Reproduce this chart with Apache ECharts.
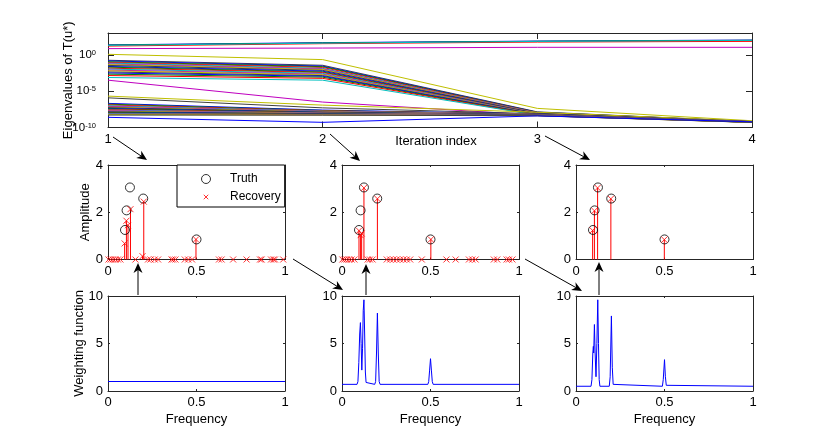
<!DOCTYPE html>
<html><head><meta charset="utf-8">
<script src="https://cdn.jsdelivr.net/npm/echarts@6/dist/echarts.min.js"></script>
<style>html,body{margin:0;padding:0;background:#fff}#c{width:830px;height:440px}</style>
</head><body><div id="c"></div>
<script>
// ---------- data ----------
const iterations = [1, 2, 3, 4];
// log10 of each eigenvalue of T(u*), one entry per eigenvalue, per iteration
const eigLog10Iter1 = [1.37, 1.33, 1.2, 1.3, 0.85, 0.07,
  -0.75, -0.84, -0.96, -1.05, -1.14, -1.26, -1.35, -1.46, -1.6, -1.7, -1.84, -1.96, -2.1, -2.2, -2.36, -2.5, -2.66, -2.85, -3.12,
  -3.49, -5.68, -5.92,
  -6.68, -6.79, -6.9, -7.01, -7.1, -7.2, -7.27, -7.37, -7.44, -7.52, -7.6, -7.67, -7.75, -7.83, -7.9, -7.96, -8.04, -8.1, -8.17, -8.22, -8.29,
  -8.6];
const eigLog10Iter2 = [1.67, 1.63, 1.53, 1.6, 0.93, -0.66,
  -1.44, -1.55, -1.63, -1.74, -1.86, -1.95, -2.03, -2.14, -2.25, -2.36, -2.44, -2.55, -2.66, -2.74, -2.86, -2.95, -3.08, -3.24, -3.49,
  -6.5, -6.92, -7.3,
  -7.6, -7.66, -7.7, -7.75, -7.8, -7.84, -7.88, -7.92, -7.95, -7.99, -8.02, -8.05, -8.08, -8.11, -8.14, -8.17, -8.2, -8.22, -8.25, -8.27, -8.3,
  -9.29];
const eigLog10Iter3 = [1.89, 1.86, 1.75, 1.84, 1.03, -7.37,
  -7.85, -7.9, -7.93, -7.96, -8.0, -8.02, -8.05, -8.07, -8.1, -8.12, -8.14, -8.16, -8.18, -8.2, -8.22, -8.24, -8.26, -8.28, -8.3,
  -8.3, -7.9, -8.1,
  -8.15, -8.17, -8.18, -8.2, -8.21, -8.22, -8.24, -8.25, -8.26, -8.27, -8.28, -8.29, -8.3, -8.31, -8.32, -8.33, -8.34, -8.35, -8.36, -8.37, -8.38,
  -8.4];
const eigLog10Iter4 = [2.03, 2.0, 1.85, 1.98, 1.03, -9.07,
  -9.18, -9.19, -9.2, -9.2, -9.21, -9.21, -9.22, -9.22, -9.23, -9.23, -9.24, -9.24, -9.25, -9.25, -9.26, -9.26, -9.27, -9.27, -9.28,
  -9.22, -9.15, -9.2,
  -9.2, -9.21, -9.21, -9.22, -9.22, -9.23, -9.23, -9.24, -9.24, -9.25, -9.25, -9.26, -9.26, -9.27, -9.27, -9.28, -9.28, -9.29, -9.29, -9.3, -9.3,
  -9.22];
const lineColors = ['#0000ff', '#008000', '#ff0000', '#00bfbf', '#bf00bf', '#bfbf00', '#404040'];

// Truth spectrum (same in every iteration panel)
const truthFreq = [0.096, 0.105, 0.124, 0.199, 0.5];
const truthAmp  = [1.25, 2.08, 3.05, 2.58, 0.85];

// Recovered spectrum, iteration 1
const rec1Freq = [0.003, 0.015, 0.028, 0.042, 0.056, 0.07, 0.094, 0.104, 0.113, 0.127, 0.155, 0.195, 0.202,
  0.226, 0.24, 0.264, 0.283, 0.359, 0.368, 0.381, 0.434, 0.453, 0.475, 0.497,
  0.627, 0.642, 0.707, 0.783, 0.859, 0.868, 0.921, 0.934, 0.943, 0.99];
const rec1Amp = [0, 0, 0, 0, 0, 0, 0.68, 1.64, 1.45, 2.13, 0, 0.14, 2.45,
  0, 0, 0, 0, 0, 0, 0, 0, 0, 0, 0.85,
  0, 0, 0, 0, 0, 0, 0, 0, 0, 0];
// iteration 2
const rec2Freq = [0.002, 0.013, 0.026, 0.04, 0.054, 0.07, 0.096, 0.105, 0.111, 0.124, 0.145, 0.158, 0.173, 0.2,
  0.253, 0.272, 0.29, 0.309, 0.328, 0.347, 0.366, 0.385, 0.451, 0.502,
  0.59, 0.642, 0.717, 0.736, 0.755, 0.858, 0.877, 0.93, 0.943, 0.963];
const rec2Amp = [0, 0, 0, 0, 0, 0, 1.22, 1.03, 1.1, 3.03, 0, 0, 0, 2.57,
  0, 0, 0, 0, 0, 0, 0, 0, 0, 0.85,
  0, 0, 0, 0, 0, 0, 0, 0, 0, 0];
// iteration 3
const rec3Freq = [0.094, 0.104, 0.122, 0.197, 0.499];
const rec3Amp  = [1.23, 2.06, 3.03, 2.57, 0.84];

// Weighting functions
const weight1Freq = [0, 1];
const weight1Val  = [1, 1];
const weight2Freq = [0, 0.085, 0.09, 0.095, 0.1, 0.104, 0.108, 0.112, 0.116, 0.12, 0.124, 0.128, 0.132, 0.136, 0.14,
  0.185, 0.19, 0.195, 0.2, 0.205, 0.21, 0.215, 0.485, 0.49, 0.495, 0.5, 0.505, 0.51, 0.515, 1];
const weight2Val  = [0.7, 0.7, 1.0, 3.0, 6.0, 7.2, 5.0, 2.2, 4.5, 8.5, 9.6, 6.0, 2.0, 0.9, 0.7,
  0.7, 1.0, 4.0, 8.2, 4.0, 1.0, 0.7, 0.7, 1.0, 2.2, 3.4, 2.2, 1.0, 0.7, 0.7];
const weight3Freq = [0, 0.085, 0.09, 0.095, 0.098, 0.1, 0.104, 0.108, 0.113, 0.118, 0.123, 0.127, 0.131, 0.135,
  0.188, 0.193, 0.2, 0.205, 0.21, 0.215, 0.488, 0.493, 0.5, 0.505, 0.51, 0.515, 1];
const weight3Val  = [0.5, 0.5, 1.2, 4.0, 4.7, 4.0, 7.0, 4.0, 1.5, 5.0, 9.6, 5.0, 1.2, 0.5,
  0.5, 1.5, 7.9, 2.5, 0.7, 0.5, 0.5, 1.2, 3.3, 1.5, 0.6, 0.5, 0.5];

// Tick settings
const freqTicks = {min: 0, max: 1, interval: 0.5};
const ampTicks = {min: 0, max: 4, interval: 2};
const weightTicks = {min: 0, max: 10, interval: 5};
const iterTicks = {min: 1, max: 4, interval: 1};
const eigExpRange = {min: -10, max: 3, interval: 5};

// ---------- chart ----------
const FONT = '"Liberation Sans", Arial, Helvetica, sans-serif';
const AX = '#262626';
const zip = (a, b) => a.map((v, i) => [v, b[i]]);
const grids = [
  {left: 108, top: 33, width: 644, height: 94.5},
  {left: 108, top: 165, width: 177, height: 94.5},
  {left: 342, top: 165, width: 177, height: 94.5},
  {left: 576, top: 165, width: 177, height: 94.5},
  {left: 108, top: 296, width: 177, height: 95},
  {left: 342, top: 296, width: 177, height: 95},
  {left: 576, top: 296, width: 177, height: 95}
].map(g => Object.assign({outerBoundsMode: 'none', containLabel: false}, g));

const xAxes = [], yAxes = [];
function addAxes(list, kind, g, base, label, name, tickLen) {
  const common = {
    gridIndex: g,
    axisLine: {show: true, onZero: false, lineStyle: {color: AX, width: 1}},
    axisTick: {show: true, inside: true, length: tickLen, lineStyle: {color: AX, width: 1}},
    splitLine: {show: false}, minorTick: {show: false}
  };
  list.push(Object.assign({}, common, base, {
    position: kind === 'x' ? 'bottom' : 'left',
    nameMoveOverlap: false,
    axisLabel: Object.assign({color: '#000', fontFamily: FONT, fontSize: 13, showMinLabel: true, showMaxLabel: true, hideOverlap: false}, label)
  }, name || {}));
  list.push(Object.assign({}, common, base, {
    position: kind === 'x' ? 'top' : 'right',
    axisLabel: {show: false}
  }));
}
const nameStyle = {color: '#000', fontFamily: FONT, fontSize: 13};

// grid 0: eigenvalues
addAxes(xAxes, 'x', 0, Object.assign({type: 'value'}, iterTicks), {margin: 5},
  {name: 'Iteration index', nameLocation: 'middle', nameGap: 7, nameTextStyle: Object.assign({padding: [0, 0, 0, 12]}, nameStyle)}, 6);
addAxes(yAxes, 'y', 0, {type: 'log', logBase: 10, min: Math.pow(10, eigExpRange.min), max: Math.pow(10, eigExpRange.max), interval: eigExpRange.interval},
  {margin: 12, showMaxLabel: false,
   formatter: v => '{b|10}{s|' + Math.round(Math.log10(v)) + '}',
   rich: {b: {fontFamily: FONT, fontSize: 11.5, color: '#000', verticalAlign: 'bottom', lineHeight: 12},
          s: {fontFamily: FONT, fontSize: 7.5, color: '#000', verticalAlign: 'top', lineHeight: 8, padding: [0, 0, 6, 0]}}},
  {name: 'Eigenvalues of T(u*)', nameLocation: 'middle', nameGap: 33, nameRotate: 90, nameTextStyle: nameStyle}, 6);

// grids 1-3: amplitude
for (let k = 1; k <= 3; k++) {
  addAxes(xAxes, 'x', k, Object.assign({type: 'value'}, freqTicks), {margin: 5}, null, 2);
  addAxes(yAxes, 'y', k, Object.assign({type: 'value'}, ampTicks), {margin: 5},
    k === 1 ? {name: 'Amplitude', nameLocation: 'middle', nameGap: 16, nameRotate: 90, nameTextStyle: nameStyle} : null, 2);
}
// grids 4-6: weighting
for (let k = 4; k <= 6; k++) {
  addAxes(xAxes, 'x', k, Object.assign({type: 'value'}, freqTicks), {margin: 5},
    {name: 'Frequency', nameLocation: 'middle', nameGap: 22, nameTextStyle: nameStyle}, 2);
  addAxes(yAxes, 'y', k, Object.assign({type: 'value'}, weightTicks), {margin: 5},
    k === 4 ? {name: 'Weighting function', nameLocation: 'middle', nameGap: 22, nameRotate: 90, nameTextStyle: nameStyle} : null, 2);
}

const series = [];
const eigIters = [eigLog10Iter1, eigLog10Iter2, eigLog10Iter3, eigLog10Iter4];
eigLog10Iter1.forEach((_, i) => {
  series.push({
    type: 'line', xAxisIndex: 0, yAxisIndex: 0, symbol: 'none', silent: true, z: 2,
    lineStyle: {color: lineColors[i % 7], width: 1},
    data: iterations.map((it, k) => [it, Math.pow(10, eigIters[k][i])])
  });
});

const X_PATH = 'path://M0,0L10,10M10,0L0,10';
const X_LEGEND = 'path://M-3,-3M9,9M0,0L6,6M6,0L0,6';
const recs = [[rec1Freq, rec1Amp], [rec2Freq, rec2Amp], [rec3Freq, rec3Amp]];
recs.forEach((r, j) => {
  const g = j + 1;
  const data = zip(r[0], r[1]);
  series.push({
    type: 'custom', name: 'stems' + g, xAxisIndex: 2 * g, yAxisIndex: 2 * g, silent: true, z: 3,
    encode: {x: 0, y: 1}, data: data,
    renderItem: (params, api) => {
      const p0 = api.coord([api.value(0), 0]);
      const p1 = api.coord([api.value(0), api.value(1)]);
      return {type: 'line', shape: {x1: p0[0], y1: p0[1], x2: p1[0], y2: p1[1]},
              style: {stroke: '#ff0000', lineWidth: 1}};
    }
  });
  series.push({
    type: 'scatter', name: 'Truth', xAxisIndex: 2 * g, yAxisIndex: 2 * g, silent: true, z: 4,
    symbol: 'circle', symbolSize: 9,
    itemStyle: {color: 'transparent', borderColor: '#000', borderWidth: 1},
    data: zip(truthFreq, truthAmp)
  });
  series.push({
    type: 'scatter', name: 'Recovery', xAxisIndex: 2 * g, yAxisIndex: 2 * g, silent: true, z: 5,
    symbol: X_PATH, symbolSize: 6,
    itemStyle: {color: 'transparent', borderColor: '#ff0000', borderWidth: 1},
    data: data
  });
});
const weights = [[weight1Freq, weight1Val], [weight2Freq, weight2Val], [weight3Freq, weight3Val]];
weights.forEach((w, j) => {
  const g = j + 4;
  series.push({
    type: 'line', xAxisIndex: 2 * g, yAxisIndex: 2 * g, symbol: 'none', silent: true,
    lineStyle: {color: '#0000ff', width: 1}, data: zip(w[0], w[1])
  });
});

function arrow(x1, y1, x2, y2) {
  const dx = x2 - x1, dy = y2 - y1, L = Math.hypot(dx, dy), ux = dx / L, uy = dy / L, px = -uy, py = ux;
  const hl = 10, hw = 4.5, notch = 7;
  const bx = x2 - ux * hl, by = y2 - uy * hl, nx = x2 - ux * notch, ny = y2 - uy * notch;
  return [
    {type: 'line', z: 100, silent: true, shape: {x1: x1, y1: y1, x2: nx, y2: ny}, style: {stroke: '#000', lineWidth: 1}},
    {type: 'polygon', z: 100, silent: true, shape: {points: [[x2, y2], [bx + px * hw, by + py * hw], [nx, ny], [bx - px * hw, by - py * hw]]}, style: {fill: '#000'}}
  ];
}
const arrows = [
  [113, 137, 147, 160], [330, 134, 360, 161], [545, 136, 590, 160],
  [293, 259, 343, 290], [525, 259, 582, 291],
  [138, 295, 138, 263], [366, 295, 366, 264], [599, 295, 599, 262]
];

const chart = echarts.init(document.getElementById('c'), null, {renderer: 'canvas'});
chart.setOption({
  backgroundColor: '#fff',
  animation: false,
  textStyle: {fontFamily: FONT},
  grid: grids,
  xAxis: xAxes,
  yAxis: yAxes,
  legend: {
    left: 177, top: 165, orient: 'vertical', selectedMode: false,
    padding: [7, 4, 3, 24], itemGap: 4, itemWidth: 38, itemHeight: 9,
    borderColor: '#000', borderWidth: 1, backgroundColor: '#fff', borderRadius: 0,
    textStyle: {fontFamily: FONT, fontSize: 12, color: '#000', lineHeight: 14},
    data: [
      {name: 'Truth', icon: 'circle', itemStyle: {color: 'transparent', borderColor: '#000', borderWidth: 1}},
      {name: 'Recovery', icon: X_LEGEND, itemStyle: {color: 'transparent', borderColor: '#ff0000', borderWidth: 1}}
    ]
  },
  series: series,
  graphic: {elements: [].concat(...arrows.map(a => arrow(a[0], a[1], a[2], a[3])))}
});
</script></body></html>
